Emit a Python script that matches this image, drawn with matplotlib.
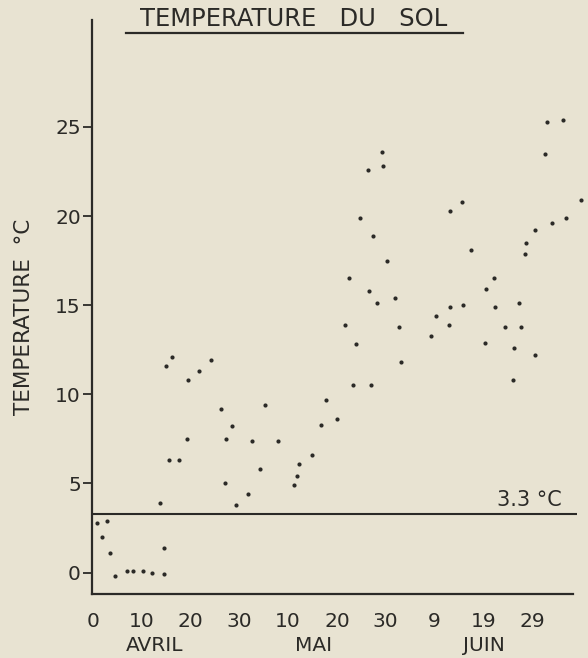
import matplotlib
matplotlib.use("Agg")
import matplotlib.pyplot as plt
from matplotlib.lines import Line2D

# days counted from 1 April (0 = start of avril)
days = [16.3, 14.9, 24.2, 21.7, 19.5, 26.2, 28.4, 19.3, 27.2, 32.5,
        15.6, 17.6, 34.3, 27.0, 31.7, 29.4, 13.8, 0.9, 2.8, 1.9,
        3.5, 4.6, 7.0, 8.3, 10.3, 12.0, 14.5, 14.6,
        54.0, 63.1, 53.3, 57.0, 35.3, 47.7, 50.1, 46.8, 38.0, 45.0,
        42.3, 41.8, 41.2,
        59.2, 56.4, 59.4, 54.7, 57.4, 60.3, 52.5, 56.6, 61.9, 58.2,
        51.6, 62.7,
        93.1, 96.4, 92.6, 75.6, 73.2, 100.1, 97.0, 94.1, 90.7, 88.8,
        88.5, 77.5, 82.2, 80.5, 73.2, 75.9, 82.5, 87.4, 70.4, 73.0,
        84.4, 87.7, 69.3, 80.3, 86.3, 90.6, 86.2]
temps = [12.1, 11.6, 11.9, 11.3, 10.8, 9.2, 8.2, 7.5, 7.5, 7.4,
         6.3, 6.3, 5.8, 5.0, 4.4, 3.8, 3.9, 2.8, 2.9, 2.0,
         1.1, -0.2, 0.1, 0.1, 0.1, 0.0, -0.1, 1.4,
         12.8, 11.8, 10.5, 10.5, 9.4, 9.7, 8.6, 8.3, 7.4, 6.6,
         6.1, 5.4, 4.9,
         23.6, 22.6, 22.8, 19.9, 18.9, 17.5, 16.5, 15.8, 15.4, 15.1,
         13.9, 13.8,
         25.3, 25.4, 23.5, 20.8, 20.3, 20.9, 19.9, 19.6, 19.2, 18.5,
         17.9, 18.1, 16.5, 15.9, 14.9, 15.0, 14.9, 15.1, 14.4, 13.9,
         13.8, 13.8, 13.3, 12.9, 12.6, 12.2, 10.8]

x_ticks = [0, 10, 20, 30, 40, 50, 60, 70, 80, 90]
x_tick_labels = ["0", "10", "20", "30", "10", "20", "30", "9", "19", "29"]
y_ticks = [0, 5, 10, 15, 20, 25]
months = ["AVRIL", "MAI", "JUIN"]
month_pos = [12.6, 45.2, 80.1]
threshold = 3.3

BG = "#e8e3d2"
INK = "#2b2a27"


def run():
    fig = plt.figure(figsize=(5.88, 6.58), dpi=100, facecolor=BG)
    ax = fig.add_axes([92 / 588, 64 / 658, 481 / 588, 574 / 658])
    ax.set_facecolor(BG)

    ax.scatter(days, temps, s=9, color=INK, linewidths=0, clip_on=False, zorder=3)

    # seuil 3.3 C
    ax.plot([-0.2, 99.2], [threshold, threshold], color=INK, lw=1.5,
            clip_on=False, solid_capstyle="butt")
    ax.annotate("3.3 °C", xy=(89.5, threshold), xytext=(0, 5.5),
                textcoords="offset points", ha="center", va="baseline",
                fontsize=15, color=INK)

    ax.set_xlim(-0.2, 98.4)
    ax.set_ylim(-1.2, 31.0)
    for s in ["top", "right"]:
        ax.spines[s].set_visible(False)
    for s in ["left", "bottom"]:
        ax.spines[s].set_color(INK)
        ax.spines[s].set_linewidth(1.6)

    ax.set_yticks(y_ticks)
    ax.set_xticks(x_ticks)
    ax.set_xticklabels(x_tick_labels)
    ax.tick_params(axis="y", length=6.5, width=1.3, pad=1.5, colors=INK,
                   labelsize=14.5)
    ax.tick_params(axis="x", length=0, pad=13, colors=INK, labelsize=14.5)

    for m, p in zip(months, month_pos):
        ax.text(p, -0.089, m, transform=ax.get_xaxis_transform(),
                ha="center", va="center", fontsize=14.5, color=INK)

    fig.text(24 / 588, 1 - 317 / 658, "TEMPERATURE  °C", rotation=90,
             ha="center", va="center", fontsize=15.5, color=INK)

    fig.text(294 / 588, 1 - 18.5 / 658, "TEMPERATURE   DU   SOL",
             ha="center", va="center", fontsize=17.5, color=INK)
    fig.add_artist(Line2D([126 / 588, 463 / 588], [1 - 33 / 658, 1 - 33 / 658],
                          color=INK, lw=1.6, transform=fig.transFigure))

    fig.savefig("out.png", dpi=100, facecolor=BG)


if __name__ == "__main__":
    run()
